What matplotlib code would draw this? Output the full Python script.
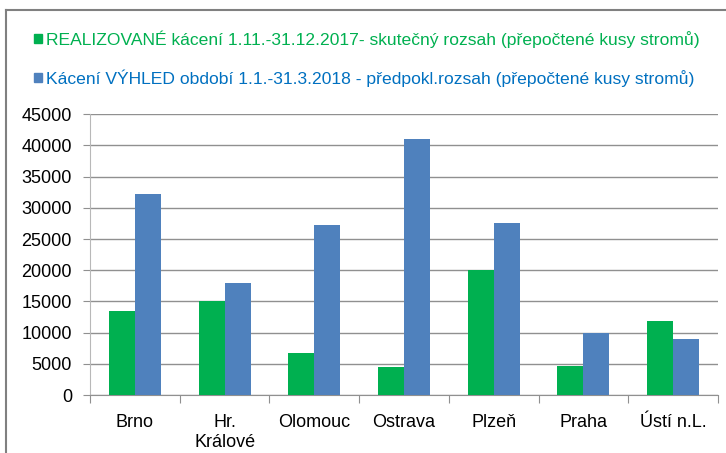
import matplotlib.pyplot as plt
import numpy as np
from matplotlib.patches import Patch
from matplotlib.lines import Line2D

plt.rcParams['font.family'] = ['Liberation Sans', 'DejaVu Sans']

regions = ['Brno', 'Hr.\nKrálové', 'Olomouc', 'Ostrava', 'Plzeň', 'Praha', 'Ústí n.L.']
realized = [13500, 15000, 6700, 4500, 20100, 4700, 11900]
outlook = [32300, 18000, 27200, 41000, 27500, 10000, 9000]
labels = ['REALIZOVANÉ kácení 1.11.-31.12.2017- skutečný rozsah (přepočtené kusy stromů)',
          'Kácení VÝHLED období 1.1.-31.3.2018 - předpokl.rozsah (přepočtené kusy stromů)']

green = '#00B050'
blue = '#4F81BD'

fig = plt.figure(figsize=(7.26, 4.53), dpi=100)
ax = fig.add_axes([90 / 726, 1 - 395 / 453, 628 / 726, (395 - 114.3) / 453])

x = np.arange(len(regions))
w = 0.29
ax.bar(x - w / 2, realized, w, color=green, zorder=3)
ax.bar(x + w / 2, outlook, w, color=blue, zorder=3)

ax.set_xlim(-0.5, len(regions) - 0.5)
ax.set_ylim(0, 45000)
ax.set_yticks(range(0, 45001, 5000))
ax.set_xticks(np.arange(-0.5, len(regions), 1.0))
ax.set_xticklabels([])
ax.set_xticks(x, minor=True)
ax.set_xticklabels(regions, minor=True, fontsize=13, linespacing=1.2)
ax.tick_params(axis='x', which='minor', length=0, pad=14)
ax.tick_params(axis='x', which='major', length=6, color='#909090')
ax.tick_params(axis='y', length=5, color='#909090', labelsize=13, pad=8)

ax.grid(axis='y', color='#909090', linewidth=1, zorder=0)
for s in ['top', 'right']:
    ax.spines[s].set_visible(False)
ax.spines['left'].set_color('#b8b8b8')
ax.spines['bottom'].set_color('#909090')

handles = [Patch(color=green), Patch(color=blue)]
fig.legend(handles, labels, loc='upper left', bbox_to_anchor=(27 / 726, 1 - 23 / 453),
           frameon=False, fontsize=12.6, labelcolor=[green, '#0070C0'],
           handlelength=0.45, handleheight=0.45, handletextpad=0.25, labelspacing=1.25,
           borderaxespad=0)

# outer frame (top and left edges visible)
fig.add_artist(Line2D([6 / 726, 6 / 726], [0, 1 - 10 / 453], color='#808080', lw=1.5,
                      transform=fig.transFigure))
fig.add_artist(Line2D([6 / 726, 1], [1 - 10 / 453, 1 - 10 / 453], color='#808080', lw=1.5,
                      transform=fig.transFigure))

fig.savefig('out.png', dpi=100)
